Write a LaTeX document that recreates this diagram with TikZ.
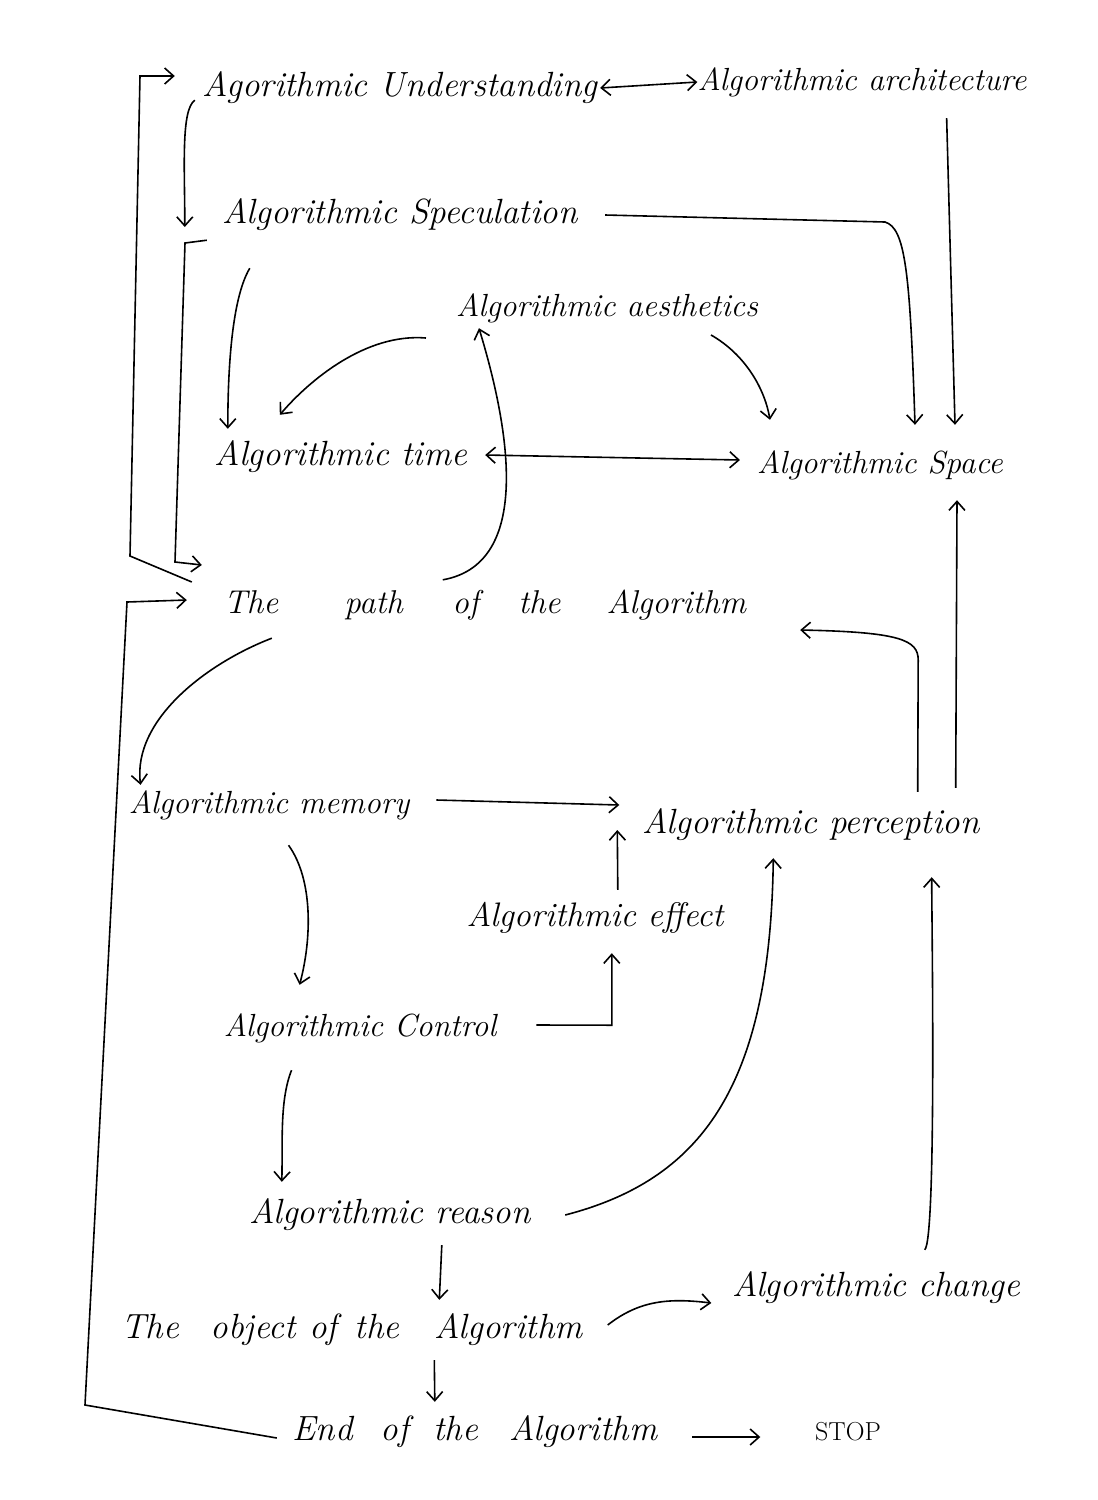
\documentclass[tikz,border=0pt]{standalone}
\usetikzlibrary{arrows.meta,calc}
\begin{document}
\begin{tikzpicture}[x=1pt,y=-1pt,
  lbl/.style={font=\fontsize{#1}{#1}\selectfont\itshape, inner sep=0pt, minimum height=50pt},
  lbl/.default=33,
  arr/.style={-{Straight Barb[length=9pt,width=16pt,line width=1.6pt]}, line width=1.6pt},
  darr/.style={{Straight Barb[length=9pt,width=16pt,line width=1.6pt]}-{Straight Barb[length=9pt,width=16pt,line width=1.6pt]}, line width=1.6pt}]
\fill[white] (0,0) rectangle (1098,1500);
\useasboundingbox (0,0) rectangle (1098,1500);

% nodes
\node[lbl=35, minimum width=400pt] (und) at (400,88) {Agorithmic Understanding};
\node[lbl=32, minimum width=325pt] (arch) at (862,82) {Algorithmic architecture};
\node[lbl=35, minimum width=356pt] (spec) at (400,215) {Algorithmic Speculation};
\node[lbl=32, minimum width=290pt] (aest) at (607,308) {Algorithmic aesthetics};
\node[lbl=35, minimum width=282pt] (time) at (341,457) {Algorithmic time};
\node[lbl=32, minimum width=236pt] (space) at (880,465) {Algorithmic Space};
\node[lbl=33, minimum width=560pt] (path) at (485,605) {The\hspace{2em}path\hspace{1.5em}of\hspace{1.2em}the\hspace{1.4em}Algorithm};
\node[lbl=32, minimum width=258pt] (memory) at (269,805) {Algorithmic memory};
\node[lbl=35, minimum width=367pt] (perc) at (811,825) {Algorithmic perception};
\node[lbl=34, minimum width=260pt] (effect) at (595,918) {Algorithmic effect};
\node[lbl=32, minimum width=256pt] (control) at (360,1028) {Algorithmic Control};
\node[lbl=35, minimum width=290pt] (reason) at (390,1215) {Algorithmic reason};
\node[lbl=35, minimum width=495pt] (object) at (352,1330) {The\hspace{0.9em}object\hspace{0.4em}of\hspace{0.5em}the\hspace{1em}Algorithm};
\node[lbl=35, minimum width=317pt] (change) at (876,1288) {Algorithmic change};
\node[lbl=35, minimum width=380pt] (end) at (475,1432) {End\hspace{0.8em}of\hspace{0.7em}the\hspace{0.9em}Algorithm};
\node[lbl=26, minimum width=75pt, font=\fontsize{26}{26}\selectfont\upshape] (stop) at (848,1432) {STOP};

% connectors
\draw[darr] (und.east) -- (arch.west);
\draw[arr] ($(und.south west)+(-5,-13)$) .. controls +(-14,10) and +(0,-60) .. ($(spec.west)+(-37,12)$);
\draw[arr] ($(path.west)+(-13,-23)$) -- (130,556) -- (140,76) -- ($(und.west)+(-25,-12)$);
\draw[arr] ($(spec.south west)+(-15,0)$) -- (185,243) -- (175,562) -- ($(path.west)+(-3,-40)$);
\draw[arr] ($(spec.east)+(27,0)$) -- (885,222) .. controls (905,228) and (910,270) .. ($(space.north)+(35,-15)$);
\draw[arr] ($(arch.south east)+(-80,11)$) -- ($(space.north)+(75,-15)$);
\draw[arr] ($(spec.south west)+(28,28)$) .. controls +(-18,30) and +(0,-60) .. ($(time.north west)+(28,-3)$);
\draw[arr] ($(aest.west)+(-30,30)$) .. controls +(-60,-5) and +(30,-35) .. ($(time.north west)+(80,-17)$);
\draw[arr] ($(aest.east)+(-47,27)$) .. controls +(35,20) and +(-5,-30) .. ($(space.north west)+(13,-20)$);
\draw[darr] ($(time.east)+(3,-2)$) -- ($(space.west)+(-17,-5)$);
\draw[arr] ($(path.north west)+(238,0)$) .. controls +(85,-15) and +(35,115) .. ($(aest.south west)+(23,-5)$);
\draw[arr] ($(perc.north east)+(-77,-8)$) -- ($(path.east)+(153,55)$) .. controls +(0,-20) and +(100,2) .. ($(path.east)+(35,25)$);
\draw[arr] ($(perc.north east)+(-39,-12)$) -- ($(space.south)+(77,10)$);
\draw[arr] ($(path.south west)+(67,8)$) .. controls +(-65,25) and +(-8,-65) .. ($(memory.north west)+(12,5)$);
\draw[arr] ($(memory.east)+(27,-5)$) -- ($(perc.west)+(-8,-20)$);
\draw[arr] ($(memory.south west)+(160,15)$) .. controls +(25,35) and +(12,-45) .. ($(control.north west)+(76,-18)$);
\draw[arr] ($(effect.north west)+(153,-3)$) -- ($(perc.west)+(-10,5)$);
\draw[arr] ($(control.east)+(40,-3)$) -- ($(effect.south west)+(147,82)$) -- ($(effect.south west)+(147,10)$);
\draw[arr] ($(control.south west)+(68,17)$) .. controls +(-12,30) and +(1,-40) .. ($(reason.north west)+(37,-8)$);
\draw[arr] ($(reason.east)+(30,0)$) .. controls +(135,-35) and +(-3,230) .. ($(perc.south west)+(146,8)$);
\draw[arr] ($(change.north east)+(-110,-13)$) .. controls +(12,-10) and +(0,40) .. ($(perc.south east)+(-63,27)$);
\draw[arr] ($(reason.south west)+(197,5)$) -- ($(object.north west)+(335,-5)$);
\draw[arr] ($(object.east)+(8,-5)$) .. controls +(32,-25) and +(-42,-5) .. ($(change.west)+(-6,15)$);
\draw[arr] ($(object.south west)+(330,5)$) -- ($(end.north west)+(150,-5)$);
\draw[arr] ($(end.east)+(27,5)$) -- ($(stop.west)+(-50,5)$);
\draw[arr] ($(end.west)+(-8,6)$) -- (85,1405) -- (127,602) -- ($(path.west)+(-18,-5)$);
\end{tikzpicture}
\end{document}
